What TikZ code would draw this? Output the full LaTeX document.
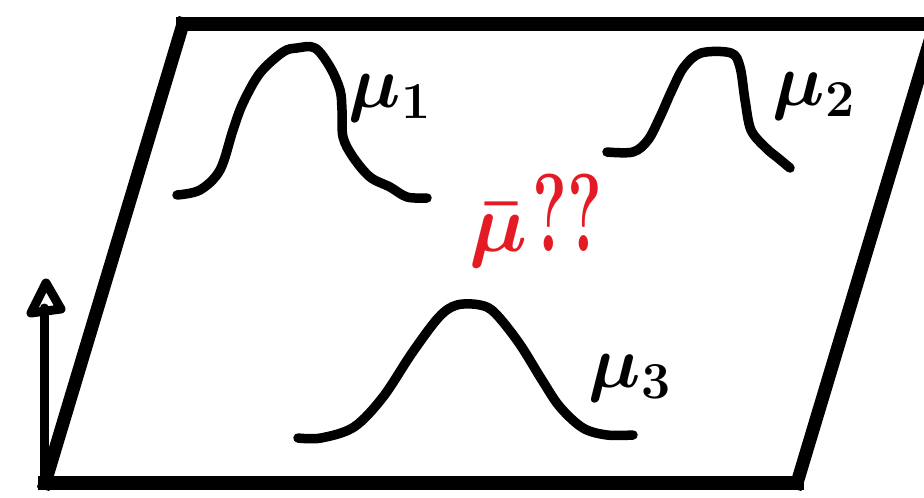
\RequirePackage{fix-cm}
\documentclass[tikz,border=0pt]{standalone}
\usepackage{graphicx}
\definecolor{markerred}{RGB}{228,26,36}
\begin{document}
\begin{tikzpicture}[x=1pt,y=-1pt,
  bump/.style={line width=9.5pt,line cap=round,line join=round},
  rim/.style={line width=13pt,line cap=rect,line join=miter},
  label/.style={font=\fontsize{74}{80}\selectfont\boldmath,inner sep=0pt}]
  \clip (0,0) rectangle (924,498);
  % --- Plane: a slanted parallelogram ---
  \coordinate (tl) at (183,24);
  \coordinate (tr) at (935,24);
  \coordinate (br) at (797,483);
  \coordinate (bl) at (45,483);
  \draw[rim,line width=14pt] (tl) -- (tr);
  \draw[rim,line width=14pt] (bl) -- (br);
  \draw[rim] (tl) -- (bl);
  \draw[rim] (tr) -- (br);
  % --- Vertical axis arrow, head drawn as a thick open triangle ---
  \coordinate (foot) at (44,483);
  \coordinate (head) at (46,283);
  \draw[line width=9pt,line cap=round] (foot) -- (44,308);
  \draw[line width=9pt,line join=round] (head) -- ++(15,26) -- ++(-30,4) -- cycle;
  % --- First bump ---
  \draw[bump] plot[smooth,tension=0.55] coordinates {(177,195) (200,190) (220,170)
    (233,130) (243,103) (260,73) (283,52) (297,48) (315,48) (330,67) (340,90)
    (342,110) (343,137) (353,157) (370,177) (390,187) (407,197) (427,198)};
  \node[label] (mu1) at (390,98) {$\mu_1$};
  % --- Second bump ---
  \draw[bump] plot[smooth,tension=0.55] coordinates {(607,152) (633,152) (648,140)
    (660,117) (672,90) (684,67) (701,53) (731,53) (740,67) (745,100) (751,130)
    (766,148) (778,158) (790,168)};
  \node[label] (mu2) at (814,96) {$\mu_2$};
  % --- Third bump ---
  \draw[bump] plot[smooth,tension=0.55] coordinates {(298,438) (321,438) (354,427)
    (383,397) (412,353) (439,317) (457,305) (480,305) (495,313) (519,343)
    (542,380) (560,407) (583,428) (607,435) (633,435)};
  \node[label] (mu3) at (630,378) {$\mu_3$};
  % --- The unknown mean ---
  \node[label,font=\fontsize{82}{90}\selectfont\boldmath\bfseries,text=markerred,anchor=base]
    (mubar) at (536,251) {$\bar{\mu}$\hspace{5pt}\scalebox{0.8}[1.35]{??}};
\end{tikzpicture}
\end{document}
